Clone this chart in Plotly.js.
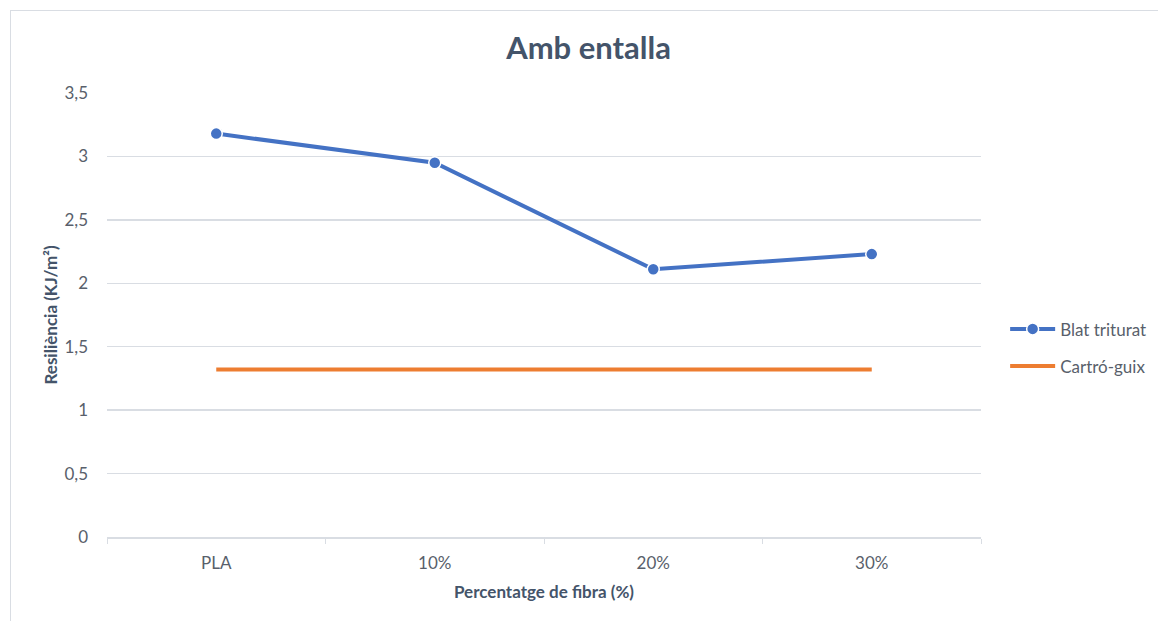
<!DOCTYPE html>
<html>
<head>
<meta charset="utf-8">
<script src="https://cdn.plot.ly/plotly-3.0.1.min.js"></script>
<style>
  html, body { margin: 0; padding: 0; background: #ffffff; overflow: hidden; }
  #wrap { position: relative; width: 1158px; height: 621px; }
  #frame { position: absolute; left: 10px; top: 10px; width: 1170px; height: 640px;
           border: 1px solid #d9dde3; box-sizing: border-box; pointer-events: none; }
  #chart { position: absolute; left: 0; top: 0; width: 1158px; height: 621px; }
</style>
</head>
<body>
<div id="wrap">
  <div id="chart"></div>
  <div id="frame"></div>
</div>
<script>
// Fibre percentage categories
const categories = ['PLA', '10%', '20%', '30%'];
// Notched impact resilience (kJ/m²)
const blatTriturat = [3.18, 2.95, 2.11, 2.23];
const cartroGuix = [1.32, 1.32, 1.32, 1.32];
const yTicks = [0, 0.5, 1, 1.5, 2, 2.5, 3, 3.5];

const fontFamily = 'Lato, "Open Sans", sans-serif';
const textColor = '#595f6b';
const titleColor = '#44546a';
const gridColor = '#d9dde3';

const traces = [
  {
    x: categories, y: blatTriturat, name: 'Blat triturat',
    type: 'scatter', mode: 'lines+markers',
    line: { color: '#4472c4', width: 4 },
    marker: { color: '#4472c4', size: 12, line: { color: '#ffffff', width: 1.5 } },
    legendgroup: 'a'
  },
  {
    x: categories, y: cartroGuix, name: 'Cartró-guix',
    type: 'scatter', mode: 'lines',
    line: { color: '#ed7d31', width: 4 },
    legendgroup: 'b'
  }
];

const layout = {
  width: 1158, height: 621,
  margin: { l: 107, r: 177, t: 93, b: 84, autoexpand: false },
  paper_bgcolor: '#ffffff', plot_bgcolor: '#ffffff',
  separators: ', ',
  font: { family: fontFamily, color: textColor, size: 17 },
  title: {
    text: '<b>Amb entalla</b>',
    font: { family: fontFamily, size: 31, color: titleColor },
    x: 0.551, xanchor: 'center', xref: 'paper',
    y: 0.923, yanchor: 'middle', yref: 'container'
  },
  xaxis: {
    type: 'category',
    range: [-0.5, 3.5],
    showgrid: false,
    showline: true, linecolor: gridColor, linewidth: 1.5,
    ticks: 'outside', tickson: 'boundaries', ticklen: 5, tickcolor: gridColor, tickwidth: 1,
    ticklabelstandoff: 10,
    tickfont: { size: 17, color: textColor },
    zeroline: false,
    title: { text: '<b>Percentatge de fibra (%)</b>', font: { size: 17, color: titleColor }, standoff: 14 },
    automargin: false,
    fixedrange: true
  },
  yaxis: {
    range: [0, 3.5],
    tickvals: yTicks,
    showgrid: true, gridcolor: gridColor, gridwidth: 1.5,
    zeroline: false, showline: false,
    ticks: '', ticklabelstandoff: 18,
    tickfont: { size: 17, color: textColor },
    title: { text: '<b>Resiliència (KJ/m²)</b>', font: { size: 17, color: titleColor }, standoff: 2 },
    automargin: false,
    fixedrange: true
  },
  showlegend: true,
  legend: {
    xref: 'container', x: 0.868, xanchor: 'left', y: 0.426, yanchor: 'middle',
    traceorder: 'grouped', tracegroupgap: 12,
    itemwidth: 45,
    font: { size: 17, color: textColor },
    bgcolor: 'rgba(0,0,0,0)'
  }
};

Plotly.newPlot('chart', traces, layout, { displayModeBar: false, staticPlot: true });
</script>
</body>
</html>
